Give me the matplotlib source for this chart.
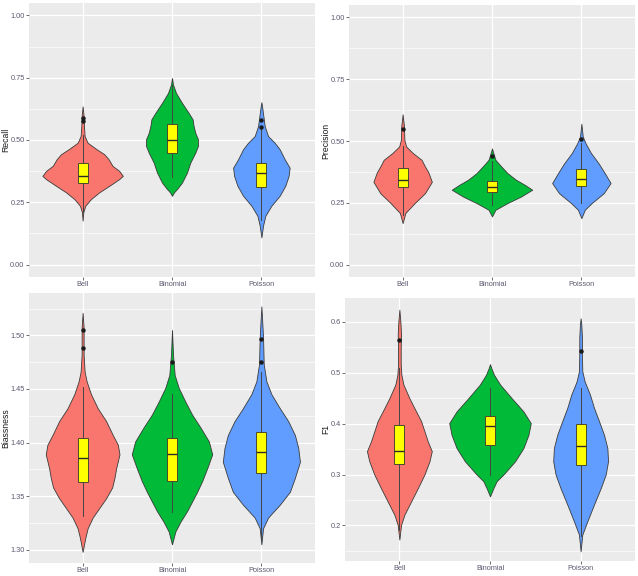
import matplotlib
matplotlib.use('Agg')
import matplotlib.pyplot as plt
import numpy as np
from matplotlib.ticker import FixedLocator

plt.rcParams['font.family'] = ['Liberation Sans', 'DejaVu Sans']

categories = ['Bell', 'Binomial', 'Poisson']
colors = ['#F8766D', '#00BA38', '#619CFF']

# ---------- Recall: violin density profiles (value, density) ----------
recall_bell_y = [0.176, 0.21, 0.236, 0.263, 0.29, 0.316, 0.343, 0.356, 0.376, 0.396, 0.423, 0.443, 0.463, 0.489, 0.516, 0.556, 0.596, 0.635]
recall_bell_d = [0, 2, 8, 25, 50, 80, 110, 121, 110, 90, 78, 65, 42, 15, 6, 4, 3, 0]
recall_binom_y = [0.276, 0.29, 0.303, 0.329, 0.369, 0.409, 0.449, 0.476, 0.503, 0.529, 0.556, 0.583, 0.609, 0.649, 0.689, 0.723, 0.749]
recall_binom_d = [0, 6, 15, 30, 45, 55, 70, 78, 78, 70, 65, 62, 50, 30, 12, 3, 0]
recall_pois_y = [0.109, 0.156, 0.196, 0.236, 0.276, 0.316, 0.356, 0.389, 0.423, 0.463, 0.489, 0.516, 0.556, 0.596, 0.636, 0.652]
recall_pois_d = [0, 5, 12, 30, 55, 72, 82, 85, 70, 55, 40, 20, 10, 6, 2, 0]
recall_box = [  # whislo, q1, med, q3, whishi
    [0.21, 0.329, 0.356, 0.407, 0.52],
    [0.35, 0.447, 0.500, 0.565, 0.72],
    [0.18, 0.313, 0.369, 0.407, 0.545],
]
recall_fliers = [[0.575, 0.59], [], [0.553, 0.58]]

# ---------- Precision ----------
prec_bell_y = [0.168, 0.209, 0.249, 0.289, 0.335, 0.373, 0.397, 0.424, 0.451, 0.478, 0.505, 0.559, 0.608]
prec_bell_d = [0, 8, 35, 65, 85, 75, 65, 55, 30, 10, 5, 4, 0]
prec_binom_y = [0.195, 0.222, 0.249, 0.276, 0.303, 0.323, 0.343, 0.370, 0.400, 0.424, 0.451, 0.470]
prec_binom_d = [0, 10, 45, 85, 117, 95, 70, 45, 25, 10, 4, 0]
prec_pois_y = [0.188, 0.222, 0.249, 0.289, 0.330, 0.370, 0.410, 0.451, 0.491, 0.518, 0.570]
prec_pois_d = [0, 10, 30, 65, 85, 68, 50, 28, 12, 4, 0]
prec_box = [
    [0.20, 0.314, 0.342, 0.389, 0.48],
    [0.24, 0.295, 0.314, 0.340, 0.42],
    [0.25, 0.316, 0.346, 0.387, 0.49],
]
prec_fliers = [[0.55], [0.44], [0.51]]

# ---------- Biassness ----------
bias_bell_y = [1.298, 1.311, 1.320, 1.330, 1.339, 1.348, 1.358, 1.367, 1.376, 1.389, 1.398, 1.407, 1.420, 1.432, 1.445, 1.457, 1.466, 1.482, 1.507, 1.521]
bias_bell_d = [0, 8, 15, 30, 50, 70, 88, 95, 100, 110, 105, 90, 70, 45, 25, 12, 6, 3, 3, 0]
bias_binom_y = [1.305, 1.317, 1.326, 1.336, 1.345, 1.354, 1.364, 1.376, 1.389, 1.401, 1.414, 1.426, 1.438, 1.451, 1.463, 1.482, 1.505]
bias_binom_d = [0, 10, 25, 45, 60, 75, 90, 105, 120, 110, 85, 60, 40, 20, 8, 3, 0]
bias_pois_y = [1.305, 1.320, 1.330, 1.342, 1.354, 1.367, 1.382, 1.395, 1.407, 1.420, 1.432, 1.445, 1.457, 1.473, 1.498, 1.516, 1.527]
bias_pois_d = [0, 5, 20, 55, 85, 100, 115, 110, 100, 80, 55, 30, 15, 7, 5, 2, 0]
bias_box = [
    [1.331, 1.363, 1.386, 1.404, 1.452],
    [1.335, 1.364, 1.389, 1.404, 1.445],
    [1.310, 1.372, 1.391, 1.410, 1.466],
]
bias_fliers = [[1.488, 1.505], [1.475], [1.475, 1.497]]

# ---------- F1 ----------
f1_bell_y = [0.172, 0.201, 0.221, 0.247, 0.273, 0.300, 0.326, 0.346, 0.365, 0.385, 0.405, 0.424, 0.450, 0.477, 0.496, 0.516, 0.549, 0.575, 0.601, 0.624]
f1_bell_d = [0, 5, 15, 35, 55, 75, 90, 97, 85, 75, 65, 50, 30, 12, 6, 4, 4, 5, 3, 0]
f1_binom_y = [0.257, 0.273, 0.287, 0.300, 0.326, 0.352, 0.378, 0.401, 0.424, 0.450, 0.477, 0.496, 0.509, 0.517]
f1_binom_d = [0, 10, 20, 40, 75, 100, 115, 122, 100, 65, 30, 12, 4, 0]
f1_pois_y = [0.149, 0.182, 0.208, 0.241, 0.273, 0.300, 0.326, 0.352, 0.378, 0.405, 0.431, 0.457, 0.483, 0.503, 0.536, 0.569, 0.595, 0.607]
f1_pois_d = [0, 5, 20, 40, 60, 75, 82, 80, 70, 55, 40, 28, 12, 5, 4, 4, 2, 0]
f1_box = [
    [0.19, 0.321, 0.347, 0.397, 0.51],
    [0.30, 0.359, 0.395, 0.416, 0.47],
    [0.18, 0.318, 0.357, 0.399, 0.47],
]
f1_fliers = [[0.564], [], [0.543]]

# y-axis ticks
recall_ticks = [0.0, 0.25, 0.5, 0.75, 1.0]
prec_ticks = [0.0, 0.25, 0.5, 0.75, 1.0]
bias_ticks = [1.30, 1.35, 1.40, 1.45, 1.50]
f1_ticks = [0.2, 0.3, 0.4, 0.5, 0.6]

panels = [
    dict(label='Recall', ys=[recall_bell_y, recall_binom_y, recall_pois_y],
         ds=[recall_bell_d, recall_binom_d, recall_pois_d], box=recall_box,
         fliers=recall_fliers, ticks=recall_ticks, fmt='{:.2f}', ylim=(-0.05, 1.05),
         rect=[29, 3, 286, 274], labelx=6),
    dict(label='Precision', ys=[prec_bell_y, prec_binom_y, prec_pois_y],
         ds=[prec_bell_d, prec_binom_d, prec_pois_d], box=prec_box,
         fliers=prec_fliers, ticks=prec_ticks, fmt='{:.2f}', ylim=(-0.05, 1.05),
         rect=[349, 5, 286, 272], labelx=326),
    dict(label='Biassness', ys=[bias_bell_y, bias_binom_y, bias_pois_y],
         ds=[bias_bell_d, bias_binom_d, bias_pois_d], box=bias_box,
         fliers=bias_fliers, ticks=bias_ticks, fmt='{:.2f}', ylim=(1.2876, 1.5395),
         rect=[29, 293, 286, 270], labelx=6),
    dict(label='F1', ys=[f1_bell_y, f1_binom_y, f1_pois_y],
         ds=[f1_bell_d, f1_binom_d, f1_pois_d], box=f1_box,
         fliers=f1_fliers, ticks=f1_ticks, fmt='{:.1f}', ylim=(0.13, 0.647),
         rect=[345, 298, 290, 263], labelx=326),
]

W, H = 638, 576
fig = plt.figure(figsize=(W / 100, H / 100), dpi=100)
fig.patch.set_facecolor('white')

positions = [1, 2, 3]
for p in panels:
    x0, y0, w, h = p['rect']
    ax = fig.add_axes([x0 / W, 1 - (y0 + h) / H, w / W, h / H])
    ax.set_facecolor('#EBEBEB')
    for s in ax.spines.values():
        s.set_visible(False)

    maxd = max(max(d) for d in p['ds'])
    vstats = []
    widths = []
    for ys, ds in zip(p['ys'], p['ds']):
        ys = np.array(ys)
        ds = np.array(ds, dtype=float)
        vstats.append(dict(coords=ys, vals=ds, mean=np.mean(ys), median=np.median(ys),
                           min=ys.min(), max=ys.max()))
        widths.append(0.9 * ds.max() / maxd)
    parts = ax.violin(vstats, positions=positions, widths=widths,
                      showmeans=False, showextrema=False, showmedians=False)
    for body, c in zip(parts['bodies'], colors):
        body.set_facecolor(c)
        body.set_edgecolor('#3a3a3a')
        body.set_linewidth(0.6)
        body.set_alpha(1)
        body.set_zorder(2)

    bstats = []
    for b, fl in zip(p['box'], p['fliers']):
        bstats.append(dict(whislo=b[0], q1=b[1], med=b[2], q3=b[3], whishi=b[4], fliers=fl))
    ax.bxp(bstats, positions=positions, widths=0.11, patch_artist=True, showcaps=False,
           boxprops=dict(facecolor='#FFFF00', edgecolor='#4a4a2a', linewidth=0.7),
           medianprops=dict(color='#2a2a2a', linewidth=1.0),
           whiskerprops=dict(color='#444444', linewidth=0.7),
           flierprops=dict(marker='o', markersize=2.2, markerfacecolor='#1a1a1a',
                           markeredgecolor='#1a1a1a'),
           manage_ticks=False, zorder=3)

    ax.set_xlim(0.4, 3.6)
    ax.set_ylim(*p['ylim'])
    ax.set_xticks(positions)
    ax.set_xticklabels(categories)
    ticks = p['ticks']
    ax.set_yticks(ticks)
    ax.set_yticklabels([p['fmt'].format(t) for t in ticks])
    step = ticks[1] - ticks[0]
    minors = [ticks[0] - step / 2] + [t + step / 2 for t in ticks]
    ax.yaxis.set_minor_locator(FixedLocator(minors))
    ax.set_axisbelow(True)
    ax.grid(which='major', axis='both', color='white', linewidth=0.9)
    ax.grid(which='minor', axis='y', color='white', linewidth=0.45)
    ax.tick_params(which='major', length=2, width=0.5, color='#333333',
                   labelsize=5.3, labelcolor='#5a5a70', pad=1.2)
    ax.tick_params(which='minor', length=0)
    ax.set_ylabel(p['label'], fontsize=6.2, color='#1a1a1a')
    # place y label center at the given pixel x
    ax.yaxis.set_label_coords((p['labelx'] - x0) / w, 0.5)
    ax.yaxis.label.set_verticalalignment('center')

fig.savefig('out.png', dpi=100, facecolor='white')
